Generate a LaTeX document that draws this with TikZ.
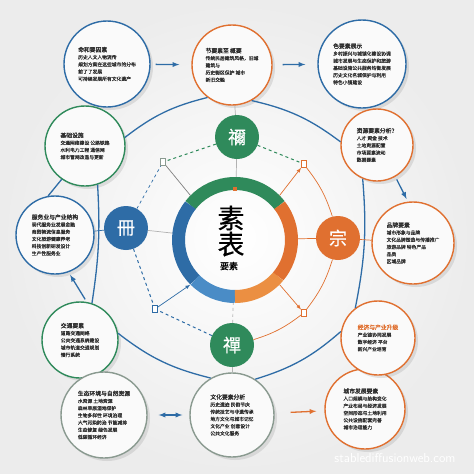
\documentclass[tikz,border=0pt]{standalone}
\usepackage{fontspec}
\usepackage{tikz}
\usepackage{xcolor}
\usetikzlibrary{shadows}
\newfontfamily\cjk[FakeBold=0.5]{Noto Sans CJK SC}
\newfontfamily\cjkb[FakeBold=1.8]{Noto Sans CJK SC}
\definecolor{cblue}{HTML}{2E6CA6}
\definecolor{cblueL}{HTML}{4A8CC6}
\definecolor{corange}{HTML}{E07030}
\definecolor{corangeL}{HTML}{EB8F42}
\definecolor{cgreen}{HTML}{2F8A5B}
\definecolor{cgray}{HTML}{8A9A90}
\definecolor{ctext}{HTML}{2E2E2E}
\newcommand{\hd}[1]{{\cjkb\fontsize{5.8}{8}\selectfont #1}}

\begin{document}
\begin{tikzpicture}[x=1pt, y=-1pt,
            bubble/.style={circle, draw=#1, line width=1.4pt, fill=white!96!gray, text=ctext, align=left, inner sep=0pt,
                font=\cjk\fontsize{4.8}{7.2}\selectfont,
                drop shadow={shadow xshift=3pt, shadow yshift=-3pt, opacity=.2}},
            hub/.style={circle, fill=#1, minimum size=44pt, inner sep=0pt, text=white, font=\cjk\fontsize{18}{18}\selectfont},
            marker/.style={rectangle, draw=#1, line width=0.8pt, fill=white, minimum width=5pt, minimum height=7pt, inner sep=0pt},
            arrow/.style={->, >=latex, line width=1.3pt, draw=#1},
            link/.style={draw=#1, line width=0.7pt, >=latex},
            orbit/.style={draw=cblue, line width=1.3pt}
        ]
            \useasboundingbox (0,0) rectangle (474,474);
            \shade[inner color=white, outer color=gray!15] (0,0) rectangle (474,474);

            % Top row
            \node[bubble=cblue, minimum size=86pt] (tl) at (107,64) {\hd{命和要因素}\\历史人文人物流传\\规划方案在这些城市的分布\\前了了发展\\可持续发展所有文化遗产};
            \node[bubble=corange, minimum size=80pt] (tm) at (232,65) {\hd{节要素至 概要}\\传统民居建筑风格，旧城\\建筑与\\历史街区保护 城市\\新旧交融};
            \node[bubble=cblue, minimum size=88pt] (tr) at (362,64) {\hd{色要素展示}\\乡村振兴与城镇化建设协调\\城市发展与生态保护和旅游\\基础设施公共服务均衡发展\\历史文化名城保护与利用\\特色小镇建设};

            % Left side
            \node[bubble=cgreen, minimum size=80pt] (lu) at (85,146) {\hd{基础设施}\\交通网络建设 公路铁路\\水利电力工程 通信网\\城市管网改造与更新};
            \node[bubble=cblue, minimum size=78pt] (lm) at (55,235) {\hd{服务业与产业结构}\\现代服务业发展金融\\商贸物流信息服务\\文化旅游健康养老\\科技创新研发设计\\生产性服务业};
            \node[bubble=cgreen, minimum size=76pt] (ll) at (80,340) {\hd{交通要素}\\道路交通网络\\公共交通系统建设\\城市轨道交通规划\\慢行系统};

            % Bottom row
            \node[bubble=cgray, minimum size=86pt] (bl) at (104,415) {\hd{生态环境与自然资源}\\水资源 土地资源\\森林草原湿地保护\\生物多样性 环境治理\\大气污染防治 节能减排\\生态修复 绿色发展\\低碳循环经济};
            \node[bubble=cgray, minimum size=84pt] (bm) at (232,415) {\hd{文化要素分析}\\历史遗迹 民俗节庆\\传统技艺与非遗传承\\地方文化与城市记忆\\文化产业 创意设计\\公共文化服务};
            \node[bubble=corange, minimum size=80pt] (br) at (365,409) {\hd{城市发展要素}\\人口规模与结构变化\\产业布局与经济发展\\空间形态与土地利用\\公共设施配套完善\\城市治理能力};

            % Right side
            \node[bubble=corange, minimum size=74pt] (rl) at (378,338) {\hd{\color{corange}经济与产业升级}\\产业链协同发展\\数字经济 平台\\新兴产业培育};
            \node[bubble=corange, minimum size=82pt] (rm) at (413,243) {\hd{品牌要素}\\城市形象与品牌\\文化品牌塑造与传播推广\\旅游品牌 特色产品\\品质\\区域品牌};
            \node[bubble=corange, minimum size=72pt] (ru) at (377,145) {\hd{资源要素分析？}\\人才 资金 技术\\土地资源配置\\市场要素流动\\数据要素};

            % Centre ring
            \node[circle, minimum size=126pt, inner sep=0pt] (ring) at (235,240) {};
            \begin{scope}[shift={(235,240)}]
                \draw[cgreen, line width=13pt] (38:56.5pt) arc (38:142:56.5pt);
                \draw[cblue, line width=13pt] (142:56.5pt) arc (142:225:56.5pt);
                \draw[cblueL, line width=13pt] (225:56.5pt) arc (225:270:56.5pt);
                \draw[corangeL, line width=13pt] (270:56.5pt) arc (270:320:56.5pt);
                \draw[corange, line width=13pt] (-40:56.5pt) arc (-40:38:56.5pt);
            \end{scope}
            \fill[corange] (233,187) rectangle (237,191);
            \node[font=\cjk\fontsize{27}{27}\selectfont] (core1) at (231,218) {素};
            \node[font=\cjk\fontsize{27}{27}\selectfont] (core2) at (231,244) {表};
            \node[font=\cjk\fontsize{9}{9}\selectfont] (core3) at (229,266) {要素};

            % Hubs
            \node[hub=cgreen] (hubtop) at (237,137) {禰};
            \node[hub=cblue] (hubleft) at (126,228) {冊};
            \node[hub=corange] (hubright) at (338,238) {宗};
            \node[hub=cgreen] (hubbottom) at (232,345) {禪};

            % Diagonal markers
            \node[marker=cgray] (mnw) at (163,162) {};
            \node[marker=corange] (mne) at (304,164) {};
            \node[marker=corange] (mse) at (304,313) {};
            \node[marker=cblue] (msw) at (155,309) {};

            % Outer orbit
            \draw[orbit] (lu.12) to[bend left=12] (tm.233);
            \draw[orbit] (tm.299) to[bend left=12] (ru.175);
            \draw[orbit] (ru.247) to[bend left=8] (rl.127);
            \draw[orbit] (rl.170) to[bend left=12] (bm.57);
            \draw[orbit] (bm.120) to[bend left=12] (ll.10);
            \draw[orbit] (ll.72) to[bend right=6] (lu.288);
            \draw[orbit] (lu.235) -- (lm.100);

            % Hubs to ring and bubbles
            \draw[link=gray!60] (hubtop) -- (tm);
            \draw[link=gray!60] (hubtop) -- (ring);
            \draw[link=cblue] (hubleft) -- (lm);
            \draw[link=gray!60] (hubleft) -- (ring);
            \draw[link=corange] (hubright) -- (rm);
            \draw[link=corange] (hubright) -- (ring);
            \draw[link=gray!60] (hubbottom) -- (bm);
            \draw[link=gray!60, dashed] (hubbottom) -- (ring);

            % Hubs to markers
            \draw[link=cgreen, dashed, line width=1pt] (hubtop) -- (mnw);
            \draw[link=cgreen, dashed, line width=1pt] (hubtop) -- (mne);
            \draw[link=cblue, dashed] (hubleft) -- (mnw);
            \draw[link=gray] (ring.135) -- (mnw);
            \draw[link=corange] (hubright) to[bend right=10] (mne);
            \draw[link=corange, ->] (ring.45) -- (mne);
            \draw[link=corange] (hubright) to[bend left=10] (mse);
            \draw[link=corange, ->] (ring.-45) -- (mse);
            \draw[link=corange] (hubbottom) to[bend right=10] (mse);
            \draw[link=cblue, dashed, line width=1pt] (hubleft) -- (msw);
            \draw[link=cblue, dashed, line width=1pt] (hubbottom) -- (msw);
            \draw[link=cblue, ->] (msw) -- (ring.225);

            % Arrows between bubbles
            \draw[arrow=cblue, shorten <=5pt, shorten >=12pt] (tl) -- (tm);
            \draw[arrow=cblue, shorten <=10pt, shorten >=12pt] (tm) -- (tr);
            \draw[arrow=cblue, shorten <=3pt, shorten >=3pt] (ll.80) -- (lm.290);
            \draw[arrow=cblue, shorten <=3pt, shorten >=3pt] (ru.300) -- (rm.97);
            \draw[arrow=cblue, <->, shorten <=11pt, shorten >=7pt] (bl) -- (bm);
            \draw[arrow=corange, shorten <=16pt, shorten >=8pt] (bm) -- (br);

            \node[text=white, font=\sffamily\fontsize{13}{13}\selectfont] (wm) at (395,458) {stablediffusionweb.com};
        \end{tikzpicture}
\end{document}
